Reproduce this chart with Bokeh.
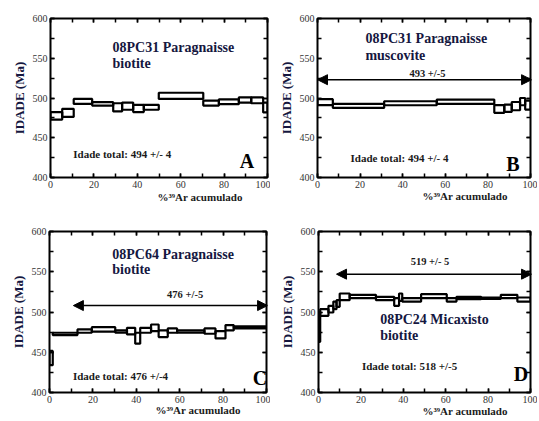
from bokeh.plotting import figure
from bokeh.layouts import column, row
from bokeh.models import (LinearAxis, Range1d, Label, Arrow, NormalHead,
                          SingleIntervalTicker, Title, CustomLabelingPolicy)
from bokeh.embed import file_html
from bokeh.resources import INLINE

# ---------------- data (cumulative %39Ar edges, age box top / bottom in Ma)
a_edges = [0, 5.4, 10.7, 19.2, 28.9, 33.0, 38.1, 43.0, 49.9, 70.4, 77.6, 86.8, 92.5, 98.0, 100]
a_top = [482.3, 486.4, 498.8, 494.7, 493.4, 494.2, 491.4, 491.4, 506.6, 496.7, 498.3, 500.8, 500.8, 494.2]
a_bot = [472.8, 476.2, 492.6, 490.5, 483.1, 485.2, 482.3, 485.2, 498.8, 490.5, 492.2, 494.2, 493.4, 481.9]

b_edges = [0, 7.2, 31.3, 56.0, 83.0, 87.7, 91.2, 95.1, 97.5, 100]
b_top = [498.5, 492.5, 495.9, 498.0, 491.0, 491.7, 495.0, 500.0, 496.7]
b_bot = [491.0, 487.5, 490.9, 492.5, 481.3, 482.5, 484.6, 490.9, 485.5]

c_edges = [0, 1.5, 12.9, 19.5, 30.3, 35.7, 39.5, 41.8, 46.8, 50.3, 54.5, 58.8, 71.4, 76.5, 81.1, 84.9, 100]
c_top = [451.6, 474.2, 478.4, 481.2, 477.1, 480.4, 474.2, 480.4, 484.5, 477.1, 479.6, 477.1, 479.6, 476.3, 483.7, 482.1]
c_bot = [434.0, 471.3, 474.2, 475.5, 474.2, 472.2, 460.6, 474.2, 476.3, 468.9, 474.2, 474.2, 473.0, 467.2, 477.1, 479.6]

d_edges = [0, 0.8, 4.7, 7.0, 8.5, 10.0, 14.7, 27.1, 35.7, 38.0, 39.5, 48.4, 60.5, 65.1, 76.7, 86.0, 93.8, 100]
d_top = [500.0, 503.5, 507.7, 513.0, 514.7, 523.0, 521.3, 518.8, 517.2, 523.0, 517.2, 522.2, 517.2, 518.8, 518.0, 521.3, 518.0]
d_bot = [463.0, 495.2, 499.4, 503.5, 506.4, 514.7, 517.2, 514.7, 507.7, 513.9, 513.0, 517.2, 513.0, 516.0, 516.4, 517.2, 513.0]

titles = [("08PC31 Paragnaisse", "biotite"), ("08PC31 Paragnaisse", "muscovite"),
          ("08PC64 Paragnaisse", "biotite"), ("08PC24 Micaxisto", "biotite")]
totals = ["Idade total: 494 +/- 4", "Idade total: 494 +/- 4",
          "Idade total: 476 +/-4", "Idade total: 518 +/-5"]
letters = ["A", "B", "C", "D"]
plateau_text = [None, "493 +/-5", "476 +/-5", "519 +/- 5"]
plateau_age = [None, 523, 508, 547]
plateau_start = [None, 0, 11, 8.5]
x_label = "%\u00b3\u2079Ar acumulado"
y_label = "IDADE (Ma)"

FONT = "Liberation Serif"
NAVY = "#15173f"

HIDE_LABELS = ("try { for (let i = 0; i < indices.size; i++) { indices.unset(i) } } "
               "catch (e) {} return indices")


def style_axis(ax, show):
    ax.axis_line_color = None
    ax.major_tick_in = 4
    ax.major_tick_out = 0
    ax.minor_tick_in = 4
    ax.minor_tick_out = 0
    ax.major_tick_line_width = 1.5
    ax.minor_tick_line_width = 1.5
    if show:
        ax.major_label_text_font = FONT
        ax.major_label_text_font_size = "10px"
        ax.major_label_text_color = "#333333"
        ax.major_label_standoff = 3
    else:
        ax.major_label_text_font_size = "0px"
        ax.major_label_standoff = 0
        ax.major_label_policy = CustomLabelingPolicy(code=HIDE_LABELS)


def panel(edges, top, bot, i, width, height, bl, br, bt, bb,
          title_xy, total_xy, letter_xy, xlab_off, xlab_standoff, ptext_xy):
    p = figure(width=width, height=height, output_backend="svg",
               toolbar_location=None, x_range=Range1d(0, 100),
               y_range=Range1d(400, 600), min_border_left=bl,
               min_border_right=br, min_border_top=bt, min_border_bottom=bb,
               x_axis_location=None, y_axis_location=None)
    p.outline_line_color = "black"
    p.outline_line_width = 2
    p.xgrid.visible = False
    p.ygrid.visible = False
    p.background_fill_color = "white"
    p.border_fill_color = "white"

    for loc in ["below", "above"]:
        ax = LinearAxis(ticker=SingleIntervalTicker(interval=20, num_minor_ticks=2))
        style_axis(ax, loc == "below")
        p.add_layout(ax, loc)
    for loc in ["left", "right"]:
        ax = LinearAxis(ticker=SingleIntervalTicker(interval=50, num_minor_ticks=2))
        style_axis(ax, loc == "left")
        if loc == "left":
            ax.axis_label = y_label
            ax.axis_label_text_font = FONT
            ax.axis_label_text_font_style = "bold"
            ax.axis_label_text_font_size = "13px"
            ax.axis_label_text_color = NAVY
            ax.axis_label_standoff = 3
        p.add_layout(ax, loc)

    p.add_layout(Title(text=x_label, align="left", offset=xlab_off,
                       standoff=xlab_standoff, text_font=FONT,
                       text_font_style="bold", text_font_size="11px",
                       text_color="#1a1a1a"), "below")

    p.quad(left=edges[:-1], right=edges[1:], top=top, bottom=bot,
           fill_color=None, line_color="black", line_width=2.2)

    t1, t2 = titles[i]
    for txt, yy in [(t1, title_xy[1]), (t2, title_xy[2])]:
        p.add_layout(Label(x=title_xy[0], y=yy, text=txt,
                           text_font=FONT, text_font_style="bold",
                           text_font_size="14px", text_color=NAVY,
                           text_baseline="middle"))
    p.add_layout(Label(x=total_xy[0], y=total_xy[1], text=totals[i],
                       text_font=FONT, text_font_style="bold",
                       text_font_size="11px", text_color="#1a1a1a",
                       text_baseline="middle"))
    p.add_layout(Label(x=letter_xy[0], y=letter_xy[1], text=letters[i],
                       text_font=FONT, text_font_style="bold",
                       text_font_size="20px", text_color="black",
                       text_align="center", text_baseline="middle"))
    if plateau_text[i] is not None:
        p.add_layout(Arrow(start=NormalHead(size=10, fill_color="black", line_color="black"),
                           end=NormalHead(size=10, fill_color="black", line_color="black"),
                           x_start=plateau_start[i], x_end=100.5,
                           y_start=plateau_age[i], y_end=plateau_age[i],
                           line_color="black", line_width=1.5))
        p.add_layout(Label(x=ptext_xy[0], y=ptext_xy[1], text=plateau_text[i],
                           text_font=FONT, text_font_style="bold",
                           text_font_size="10.5px", text_color="#1a1a1a",
                           text_align="center", text_baseline="middle"))
    return p


pA = panel(a_edges, a_top, a_bot, 0, 270, 210, 50, 3, 18, 30,
           (28.6, 564, 544), (10.5, 429), (90.5, 421), 107, -4, None)
pB = panel(b_edges, b_top, b_bot, 1, 267, 210, 47, 7, 17, 33,
           (22.5, 575, 554), (15.5, 425), (91.8, 417), 105, -5, (51.6, 531))
pC = panel(c_edges, c_top, c_bot, 2, 270, 209, 49, 4, 20, 27,
           (28.9, 571, 553), (10.8, 421), (97.0, 418.6), 106, -8, (62.5, 521.6))
pD = panel(d_edges, d_top, d_bot, 3, 267, 209, 48, 7, 21, 27,
           (29.1, 491, 470.4), (20.5, 433), (95.5, 423), 104, -6, (52.6, 563))

layout = column(row(pA, pB), row(pC, pD))
open("out.html", "w").write(file_html(layout, INLINE))
